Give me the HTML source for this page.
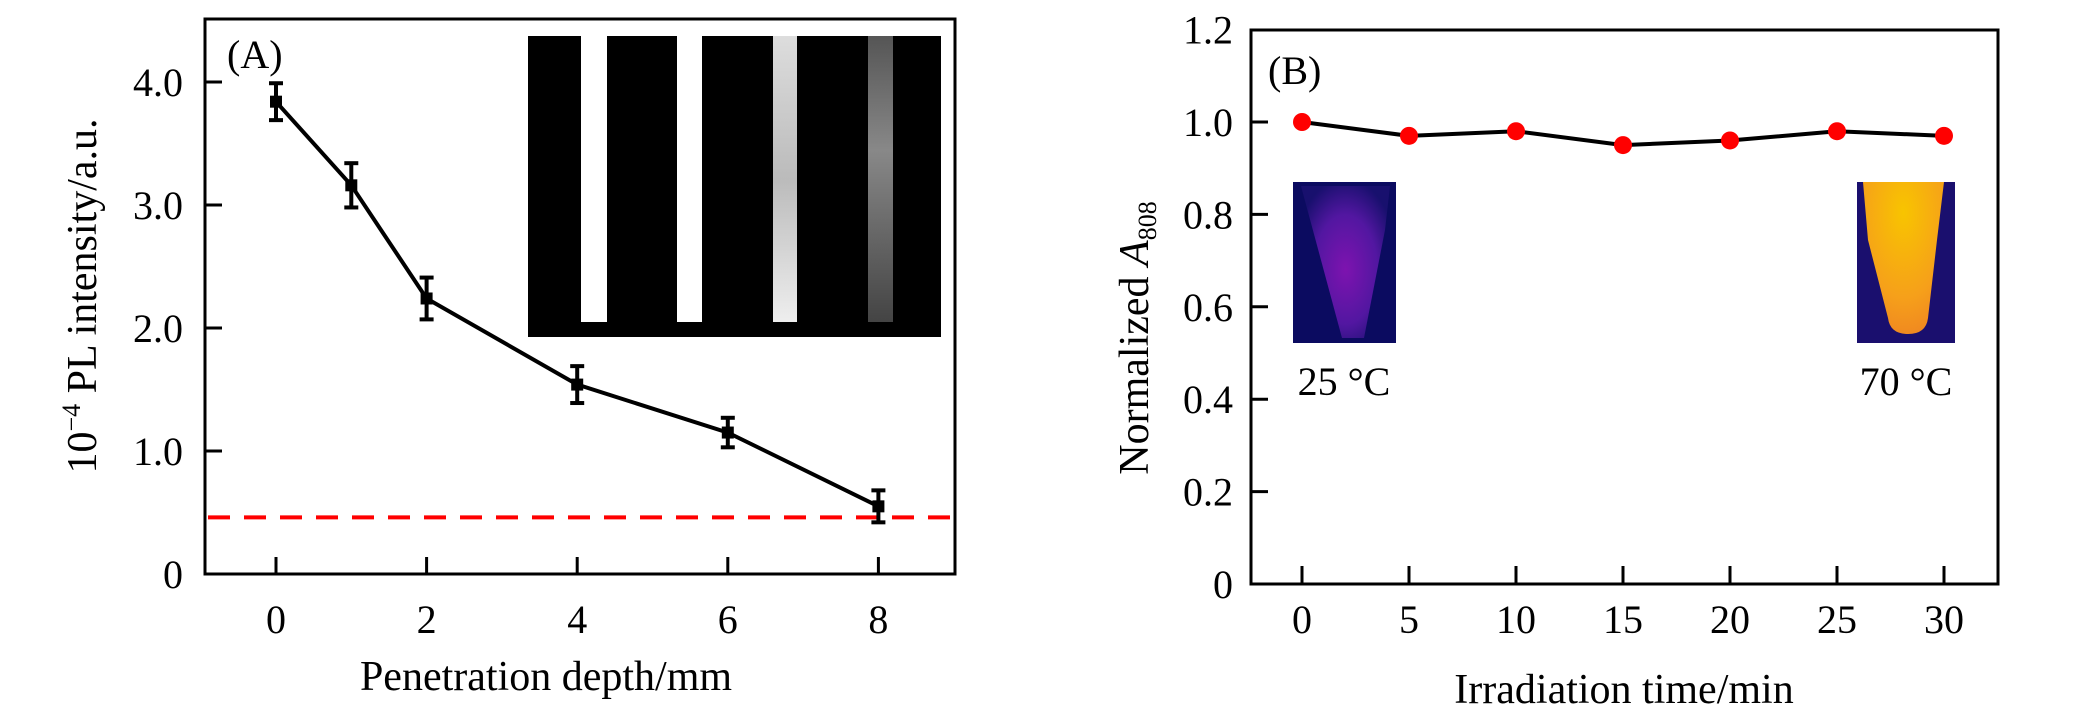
<!DOCTYPE html>
<html><head><meta charset="utf-8">
<style>
html,body{margin:0;padding:0;background:#fff;}
svg{display:block;font-family:"Liberation Serif",serif;}
</style></head>
<body>
<svg id="fig" width="2088" height="709" viewBox="0 0 2088 709">
 <defs>
  <radialGradient id="cold" cx="0.5" cy="0.55" r="0.6">
   <stop offset="0" stop-color="#8a14b8"/><stop offset="0.6" stop-color="#5a18a8"/><stop offset="1" stop-color="#1a1070"/>
  </radialGradient>
  <radialGradient id="hot" cx="0.5" cy="0.2" r="0.8">
   <stop offset="0" stop-color="#f8c400"/><stop offset="0.7" stop-color="#f6a01a"/><stop offset="1" stop-color="#f08a20"/>
  </radialGradient>
  <linearGradient id="noisy" x1="0" y1="0" x2="0" y2="1">
   <stop offset="0" stop-color="#ddd"/><stop offset="0.5" stop-color="#bbb"/><stop offset="1" stop-color="#eee"/>
  </linearGradient>
  <linearGradient id="dim" x1="0" y1="0" x2="0" y2="1">
   <stop offset="0" stop-color="#555"/><stop offset="0.4" stop-color="#888"/><stop offset="1" stop-color="#444"/>
  </linearGradient>
 </defs>
 <g id="panelA"></g>
 <g id="panelB"></g>
</svg>
<script>
// Panel A data
const depthCats = [0, 1, 2, 4, 6, 8];
const plValues = [3.84, 3.16, 2.24, 1.54, 1.15, 0.55];
const plErrors = [0.15, 0.18, 0.17, 0.15, 0.12, 0.13];
const thresholdValue = [0.46];
const aXTicks = [0, 2, 4, 6, 8];
const aYTicks = [0, 1, 2, 3, 4];
const aYTickLabels = ["0", "1.0", "2.0", "3.0", "4.0"];
// Panel B data
const timeCats = [0, 5, 10, 15, 20, 25, 30];
const absValues = [1.0, 0.97, 0.98, 0.95, 0.96, 0.98, 0.97];
const bXTicks = [0, 5, 10, 15, 20, 25, 30];
const bYTicks = [0, 0.2, 0.4, 0.6, 0.8, 1.0, 1.2];
const bYTickLabels = ["0", "0.2", "0.4", "0.6", "0.8", "1.0", "1.2"];

const NS = "http://www.w3.org/2000/svg";
function mk(parent, tag, attrs, text) {
  const e = document.createElementNS(NS, tag);
  for (const k in attrs) e.setAttribute(k, attrs[k]);
  if (text !== undefined) e.textContent = text;
  parent.appendChild(e);
  return e;
}
const FS = 40;

// ---------- Panel A ----------
const A = document.getElementById('panelA');
const ax = v => 276 + v * 75.3;
const ay = v => 574 - v * 123;
let el;
el = mk(A, 'rect', {x:205, y:19, width:750, height:555, fill:'none', stroke:'#000', 'stroke-width':3});


el = mk(A, 'g', {});


mk(el, 'rect', {x:528, y:36, width:413, height:301, fill:'#000'});
mk(el, 'rect', {x:581, y:36, width:26, height:286, fill:'#fff'});
mk(el, 'rect', {x:677, y:36, width:25, height:286, fill:'#fff'});
mk(el, 'rect', {x:773, y:36, width:24, height:286, fill:'url(#noisy)'});
mk(el, 'rect', {x:868, y:36, width:25, height:286, fill:'url(#dim)'});
el = mk(A, 'text', {x:227, y:68, 'font-size':FS}, '(A)');


aXTicks.forEach(t => {
  const x = ax(t);
  let tk = mk(A, 'line', {x1:x, y1:574, x2:x, y2:557, stroke:'#000', 'stroke-width':3});
  
  
  let lb = mk(A, 'text', {x:x, y:633, 'font-size':FS, 'text-anchor':'middle'}, String(t));
  
  
});
aYTicks.forEach((t, i) => {
  const y = ay(t);
  if (t > 0) {
    let tk = mk(A, 'line', {x1:205, y1:y, x2:222, y2:y, stroke:'#000', 'stroke-width':3});
    
    
  }
  let lb = mk(A, 'text', {x:183, y:y + 14, 'font-size':FS, 'text-anchor':'end'}, aYTickLabels[i]);
  
  
});
el = mk(A, 'text', {x:546, y:690, 'font-size':FS + 2, 'text-anchor':'middle'}, 'Penetration depth/mm');


el = mk(A, 'text', {x:0, y:0, 'font-size':FS + 2, 'text-anchor':'middle', transform:'translate(96,296) rotate(-90)'});


el.innerHTML = '10<tspan dy="-16" font-size="26">−4</tspan><tspan dy="16"> PL intensity/a.u.</tspan>';
el = mk(A, 'line', {x1:208, y1:ay(thresholdValue[0]), x2:952, y2:ay(thresholdValue[0]), stroke:'#f00', 'stroke-width':4, 'stroke-dasharray':'22 14'});


el = mk(A, 'polyline', {points: depthCats.map((c, i) => ax(c) + ',' + ay(plValues[i])).join(' '), fill:'none', stroke:'#000', 'stroke-width':4});


depthCats.forEach((c, i) => {
  const x = ax(c), y = ay(plValues[i]), y1 = ay(plValues[i] + plErrors[i]), y2 = ay(plValues[i] - plErrors[i]);
  const g = mk(A, 'g', {});
  
  
  mk(g, 'line', {x1:x, y1:y1, x2:x, y2:y2, stroke:'#000', 'stroke-width':4});
  mk(g, 'line', {x1:x - 7, y1:y1, x2:x + 7, y2:y1, stroke:'#000', 'stroke-width':4});
  mk(g, 'line', {x1:x - 7, y1:y2, x2:x + 7, y2:y2, stroke:'#000', 'stroke-width':4});
  mk(g, 'rect', {x:x - 6, y:y - 6, width:12, height:12, fill:'#000'});
});

// ---------- Panel B ----------
const B = document.getElementById('panelB');
const bx = v => 1302 + v * 21.4;
const by = v => 584 - v * 462;
el = mk(B, 'rect', {x:1251, y:30, width:747, height:554, fill:'none', stroke:'#000', 'stroke-width':3});


bXTicks.forEach(t => {
  const x = bx(t);
  let tk = mk(B, 'line', {x1:x, y1:584, x2:x, y2:566, stroke:'#000', 'stroke-width':3});
  
  
  let lb = mk(B, 'text', {x:x, y:633, 'font-size':FS, 'text-anchor':'middle'}, String(t));
  
  
});
bYTicks.forEach((t, i) => {
  const y = by(t);
  if (t > 0 && t < 1.2) {
    let tk = mk(B, 'line', {x1:1251, y1:y, x2:1268, y2:y, stroke:'#000', 'stroke-width':3});
    
    
  }
  let lb = mk(B, 'text', {x:1233, y:y + 14, 'font-size':FS, 'text-anchor':'end'}, bYTickLabels[i]);
  
  
});
el = mk(B, 'text', {x:1268, y:84, 'font-size':FS}, '(B)');


el = mk(B, 'text', {x:1624, y:703, 'font-size':FS + 2, 'text-anchor':'middle'}, 'Irradiation time/min');


el = mk(B, 'text', {x:0, y:0, 'font-size':FS + 2, 'text-anchor':'middle', transform:'translate(1148,338) rotate(-90)'});


el.innerHTML = 'Normalized <tspan font-style="italic">A</tspan><tspan font-size="26" dy="8">808</tspan>';
el = mk(B, 'g', {});


mk(el, 'rect', {x:1293, y:182, width:103, height:161, fill:'#0b0b60'});
mk(el, 'path', {d:'M1301,186 L1390,186 L1385,230 L1364,338 L1342,338 Z', fill:'url(#cold)', opacity:0.9});
el = mk(B, 'text', {x:1344, y:395, 'font-size':FS, 'text-anchor':'middle'}, '25 °C');


el = mk(B, 'g', {});


mk(el, 'rect', {x:1857, y:182, width:98, height:161, fill:'#1a0f6e'});
mk(el, 'path', {d:'M1863,182 L1944,182 L1937,240 L1928,318 Q1926,334 1908,334 Q1890,334 1888,318 L1868,240 Z', fill:'url(#hot)'});
el = mk(B, 'text', {x:1906, y:395, 'font-size':FS, 'text-anchor':'middle'}, '70 °C');


el = mk(B, 'polyline', {points: timeCats.map((c, i) => bx(c) + ',' + by(absValues[i])).join(' '), fill:'none', stroke:'#000', 'stroke-width':4});


timeCats.forEach((c, i) => {
  const p = mk(B, 'circle', {cx:bx(c), cy:by(absValues[i]), r:9, fill:'#f00'});
  
  
});
</script>
</body></html>
